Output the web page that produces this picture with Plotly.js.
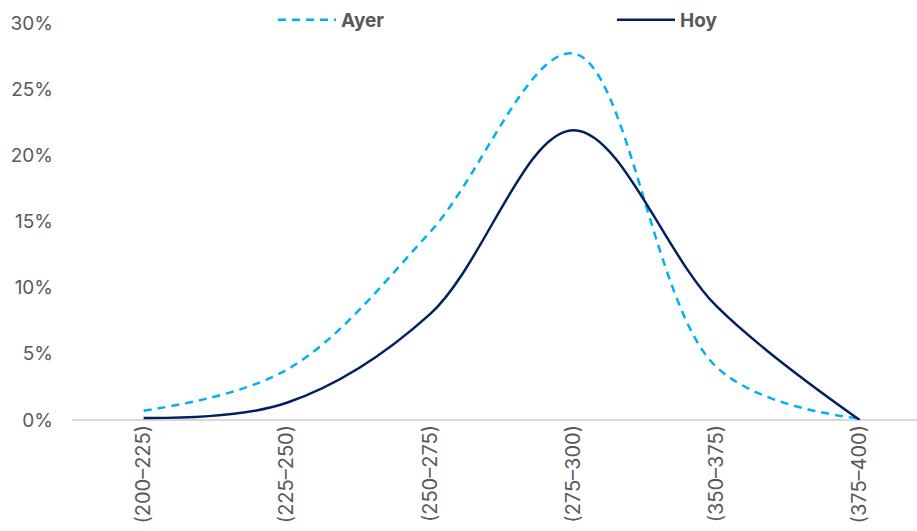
<!DOCTYPE html>
<html>
<head>
<meta charset="utf-8">
<script src="https://cdn.plot.ly/plotly-3.0.1.min.js"></script>
<style>html,body{margin:0;padding:0;background:#fff;}#chart{width:917px;height:531px;}</style>
</head>
<body>
<div id="chart"></div>
<script>
const categories = ["(200–225)", "(225–250)", "(250–275)", "(275–300)", "(350–375)", "(375–400)"];
const ayer = [0.007, 0.038, 0.142, 0.277, 0.040, 0.001];
const hoy = [0.0015, 0.013, 0.080, 0.219, 0.086, 0.0];
const yTickVals = [0, 0.05, 0.10, 0.15, 0.20, 0.25, 0.30];

const traces = [
  {x: categories, y: ayer, name: "Ayer", type: "scatter", mode: "lines", legend: "legend",
   line: {color: "#00B0F0", width: 2.5, dash: "8px,6px", shape: "spline", smoothing: 1}},
  {x: categories, y: hoy, name: "Hoy", type: "scatter", mode: "lines", legend: "legend2",
   line: {color: "#002060", width: 2.5, shape: "spline", smoothing: 1}}
];

const legendFont = {family: "Inter, 'Noto Sans', sans-serif", size: 19, color: "#595959", weight: "bold"};

const layout = {
  width: 917, height: 531,
  margin: {l: 72, r: 0, t: 0, b: 111},
  paper_bgcolor: "#fff", plot_bgcolor: "#fff",
  font: {family: "Inter, 'Noto Sans', sans-serif", size: 18, color: "#595959"},
  xaxis: {type: "category", range: [-0.5, 5.4], showgrid: false, zeroline: false,
          showline: false, ticks: "", tickangle: -90, tickfont: {size: 20, color: "#595959"},
          fixedrange: true},
  yaxis: {range: [0, 0.3174], tickvals: yTickVals, tickformat: ".0%", showgrid: false,
          zeroline: true, zerolinecolor: "#D9D9D9", zerolinewidth: 1.5,
          showline: false, ticks: "", ticklabelstandoff: 18, tickfont: {size: 19, color: "#595959"},
          fixedrange: true},
  showlegend: true,
  legend: {orientation: "h", xref: "paper", x: (273 - 72) / 845, xanchor: "left",
           yref: "paper", y: 1 - 20 / 420, yanchor: "middle", font: legendFont, itemwidth: 58,
           bgcolor: "rgba(0,0,0,0)"},
  legend2: {orientation: "h", xref: "paper", x: (612 - 72) / 845, xanchor: "left",
           yref: "paper", y: 1 - 20 / 420, yanchor: "middle", font: legendFont, itemwidth: 58,
           bgcolor: "rgba(0,0,0,0)"}
};

Plotly.newPlot("chart", traces, layout, {displayModeBar: false, staticPlot: true});
</script>
</body>
</html>
